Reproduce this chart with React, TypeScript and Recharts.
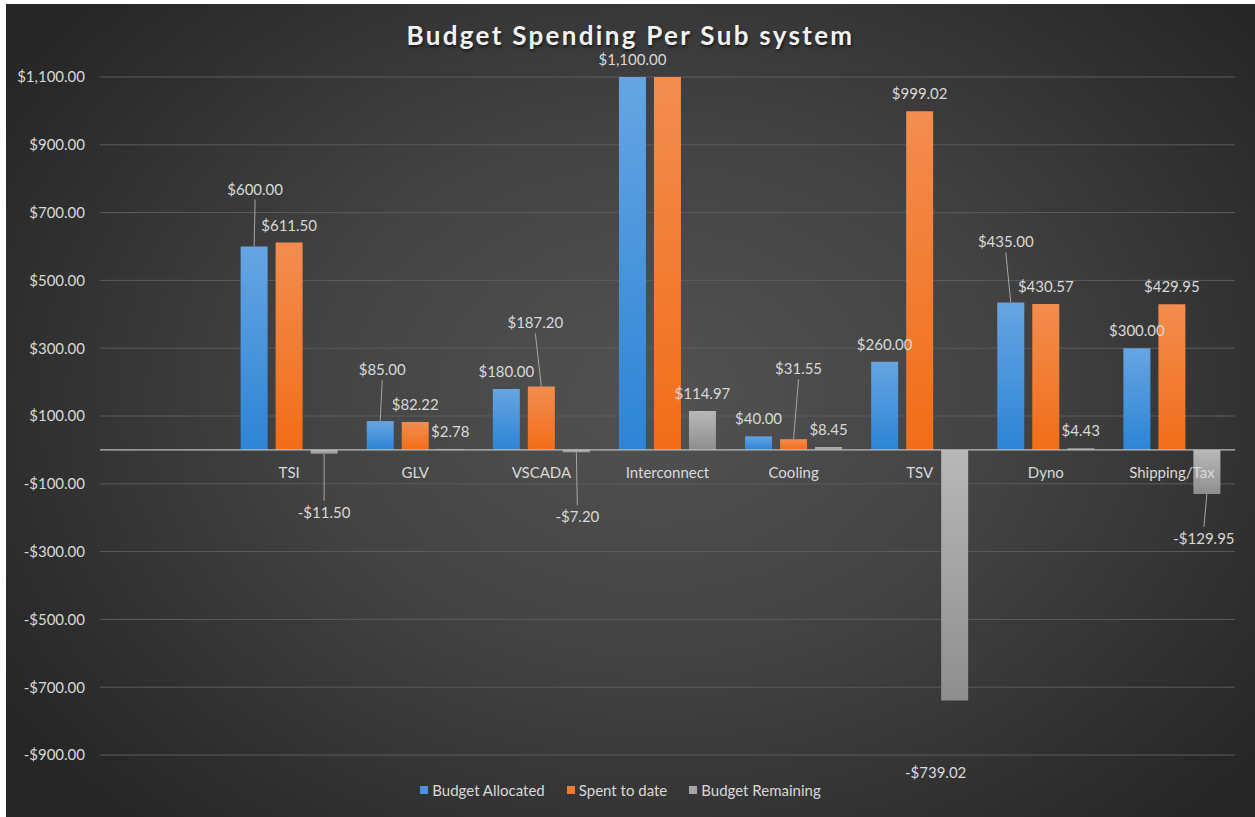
import React from 'react';
import { BarChart, Bar, XAxis, YAxis, CartesianGrid, ReferenceLine, LabelList, Legend } from 'recharts';

// ---------- data ----------
const categories = ['', 'TSI', 'GLV', 'VSCADA', 'Interconnect', 'Cooling', 'TSV', 'Dyno', 'Shipping/Tax'];
const budgetAllocated: (number | null)[] = [null, 600, 85, 180, 1100, 40, 260, 435, 300];
const spentToDate: (number | null)[] = [null, 611.5, 82.22, 187.2, 1100, 31.55, 999.02, 430.57, 429.95];
const budgetRemaining: (number | null)[] = [null, -11.5, 2.78, -7.2, 114.97, 8.45, -739.02, 4.43, -129.95];
const yTicks = [-900, -700, -500, -300, -100, 100, 300, 500, 700, 900, 1100];
const Y_MIN = -900;
const Y_MAX = 1100;

const seriesValues: Record<string, (number | null)[]> = {
  allocated: budgetAllocated,
  spent: spentToDate,
  remaining: budgetRemaining,
};

const seriesInfo = [
  { key: 'allocated', name: 'Budget Allocated', color: '#4a93dc', grad: 'gBlue' },
  { key: 'spent', name: 'Spent to date', color: '#f07b30', grad: 'gOrange' },
  { key: 'remaining', name: 'Budget Remaining', color: '#a5a5a5', grad: 'gGray' },
];

const rows = categories.map((c, i) => ({
  name: c,
  allocated: budgetAllocated[i],
  spent: spentToDate[i],
  remaining: budgetRemaining[i],
}));

// label placement tweaks (relative offsets, mimicking Excel's moved labels with leader lines)
type Adj = { dx?: number; dy?: number; leader?: boolean; hide?: boolean };
const labelAdjust: Record<string, Record<number, Adj>> = {
  allocated: { 1: { dx: 1, dy: -58, leader: true }, 2: { dx: 2, dy: -52, leader: true }, 7: { dx: -5, dy: -61, leader: true } },
  spent: { 3: { dx: -6, dy: -64, leader: true }, 4: { hide: true }, 5: { dx: 5, dy: -71, leader: true } },
  remaining: { 1: { dx: 0, dy: 58, leader: true }, 3: { dx: 1, dy: 64, leader: true }, 6: { dx: -19, dy: 72 }, 8: { dx: -3, dy: 44, leader: true } },
};

// ---------- layout ----------
const W = 1249;
const H = 813;
const PLOT_TOP = 73;
const RIGHT = 20;
const Y_AXIS_W = 94;
const BOTTOM_MARGIN = 15;
const LEGEND_H = 24;
const XAXIS_H = 23;
const plotH = H - PLOT_TOP - BOTTOM_MARGIN - LEGEND_H - XAXIS_H;
const zeroY = PLOT_TOP + (plotH * Y_MAX) / (Y_MAX - Y_MIN);

const FONT = 'Lato, "Open Sans", sans-serif';
const TEXT = '#d9d9d9';

const fmt = (v: number) => {
  const s = Math.abs(v).toLocaleString('en-US', { minimumFractionDigits: 2, maximumFractionDigits: 2 });
  return (v < 0 ? '-$' : '$') + s;
};

const CategoryTick = (props: any) => {
  const { x, payload } = props;
  if (!payload || !payload.value) return null;
  return (
    <text x={x} y={zeroY + 22} textAnchor="middle" dominantBaseline="central" fill={TEXT} fontSize={15} fontFamily={FONT}>
      {payload.value}
    </text>
  );
};

const findIndex = (key: string, props: any): number => {
  const p = props.payload;
  if (p && typeof p.name === 'string') {
    const k = categories.indexOf(p.name);
    if (k >= 0) return k;
  }
  const arr = seriesValues[key];
  const k = arr.findIndex((v) => v != null && Math.abs((v as number) - Number(props.value)) < 1e-9);
  return k;
};

const makeLabel = (key: string) => (props: any) => {
  const { value } = props;
  if (value == null) return null;
  const vb = props.viewBox && props.viewBox.width != null ? props.viewBox : props;
  const x = Number(vb.x);
  const y = Number(vb.y);
  const w = Number(vb.width);
  const h = Number(vb.height);
  if (!isFinite(x) || !isFinite(y)) return null;
  const idx = findIndex(key, props);
  const adj: Adj = (labelAdjust[key] && labelAdjust[key][idx]) || {};
  if (adj.hide) return null;
  const neg = Number(value) < 0;
  const cx = x + w / 2;
  const top = Math.min(y, y + h);
  const bottom = Math.max(y, y + h);
  const end = neg ? bottom : top;
  const lx = cx + (adj.dx ?? 0);
  const ly = end + (adj.dy ?? (neg ? 18 : -18));
  return (
    <g>
      {adj.leader && (
        <line x1={cx} y1={end} x2={lx} y2={neg ? ly - 11 : ly + 11} stroke="#a6a6a6" strokeWidth={1} />
      )}
      <text x={lx} y={ly} textAnchor="middle" dominantBaseline="central" fill={TEXT} fontSize={15} fontFamily={FONT}>
        {fmt(Number(value))}
      </text>
    </g>
  );
};

const renderLegend = () => (
  <div
    style={{
      display: 'flex',
      justifyContent: 'center',
      alignItems: 'center',
      height: LEGEND_H,
      fontFamily: FONT,
      fontSize: 15,
      color: TEXT,
    }}
  >
    {seriesInfo.map((s) => (
      <span key={s.key} style={{ display: 'flex', alignItems: 'center', margin: '0 11px' }}>
        <span style={{ width: 8, height: 8, background: s.color, marginRight: 4, display: 'inline-block' }} />
        {s.name}
      </span>
    ))}
  </div>
);

export default function App() {
  return (
    <div
      style={{
        position: 'absolute',
        left: 6,
        top: 4,
        width: W,
        height: H,
        background:
          'radial-gradient(ellipse 62% 72% at 52% 48%, #525252 0%, #434343 45%, #303030 80%, #262626 100%)',
        overflow: 'hidden',
      }}
    >
      <div
        style={{
          position: 'absolute',
          top: 14,
          left: 0,
          width: W,
          height: 34,
          lineHeight: '34px',
          textAlign: 'center',
          fontFamily: FONT,
          fontWeight: 700,
          fontSize: 26,
          letterSpacing: 2.3,
          color: '#f2f2f2',
          textShadow: '1px 2px 3px rgba(0,0,0,0.6)',
          zIndex: 2,
        }}
      >
        Budget Spending Per Sub system
      </div>
      <BarChart
        width={W}
        height={H}
        data={rows}
        margin={{ top: PLOT_TOP, right: RIGHT, left: 0, bottom: BOTTOM_MARGIN }}
        barGap={8}
        barCategoryGap="11.5%"
      >
        <defs>
          <linearGradient id="gBlue" x1="0" y1="0" x2="0" y2="1">
            <stop offset="0%" stopColor="#66a5e2" />
            <stop offset="100%" stopColor="#2d84d6" />
          </linearGradient>
          <linearGradient id="gOrange" x1="0" y1="0" x2="0" y2="1">
            <stop offset="0%" stopColor="#f28d4f" />
            <stop offset="100%" stopColor="#f26d18" />
          </linearGradient>
          <linearGradient id="gGray" x1="0" y1="0" x2="0" y2="1">
            <stop offset="0%" stopColor="#b8b8b8" />
            <stop offset="100%" stopColor="#8e8e8e" />
          </linearGradient>
        </defs>
        <CartesianGrid vertical={false} stroke="#5c5c5c" strokeWidth={1} />
        <XAxis
          dataKey="name"
          height={XAXIS_H}
          axisLine={false}
          tickLine={false}
          interval={0}
          tick={<CategoryTick />}
        />
        <YAxis
          width={Y_AXIS_W}
          domain={[Y_MIN, Y_MAX]}
          ticks={yTicks}
          allowDataOverflow
          axisLine={false}
          tickLine={false}
          tickSize={6}
          tickMargin={9}
          tickFormatter={(v: number) => fmt(v)}
          tick={{ fill: TEXT, fontSize: 15, fontFamily: FONT }}
        />
        <ReferenceLine y={0} stroke="#bdbdbd" strokeWidth={1.3} />
        <Legend verticalAlign="bottom" height={LEGEND_H} content={renderLegend} />
        {seriesInfo.map((s) => (
          <Bar key={s.key} dataKey={s.key} name={s.name} fill={`url(#${s.grad})`} isAnimationActive={false}>
            <LabelList dataKey={s.key} content={makeLabel(s.key)} />
          </Bar>
        ))}
      </BarChart>
    </div>
  );
}
